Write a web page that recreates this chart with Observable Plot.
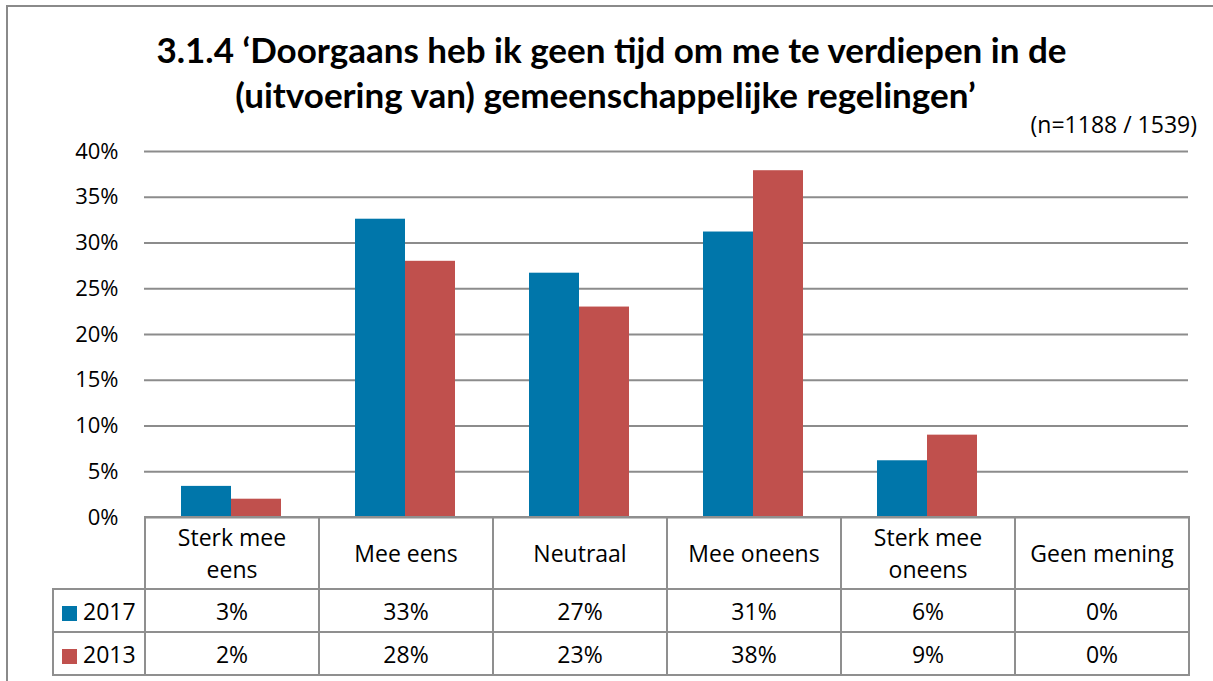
<!DOCTYPE html>
<html>
<head>
<meta charset="utf-8">
<script src="https://cdn.jsdelivr.net/npm/d3@7"></script>
<script src="https://cdn.jsdelivr.net/npm/@observablehq/plot@0.6"></script>
<style>
  html, body { margin: 0; padding: 0; background: #fff; }
  #root { position: relative; width: 1213px; height: 681px; overflow: hidden; font-family: "Open Sans", sans-serif; color: #000; }
  #border { position: absolute; left: 6px; top: 5px; width: 1300px; height: 800px; border-left: 2px solid #8a8a8a; border-top: 2px solid #8a8a8a; }
  #title { position: absolute; left: 0; width: 1213px; top: 27px; text-align: center; font-family: Lato, "Open Sans", sans-serif; font-weight: bold; font-size: 35px; line-height: 45px; }
  #title div { white-space: nowrap; }
  #title div:nth-child(1) { margin-left: 10px; }
  #title div:nth-child(2) { margin-left: -2px; }
  #n { position: absolute; right: 16px; top: 109px; font-size: 23px; line-height: 30px; }
  #chart { position: absolute; left: 0; top: 130px; }
  #tbl { position: absolute; left: 52px; top: 516px; border-collapse: collapse; table-layout: fixed; width: 1137px; font-size: 23px; }
  #tbl td { border: 2px solid #8f8f8f; text-align: center; padding: 0; overflow: hidden; }
  #tbl tr.head td { height: 70px; line-height: 32px; }
  #tbl tr.row td { height: 41px; line-height: 30px; }
  #tbl td.blank { border: none; border-right: 2px solid #8f8f8f; }
  #tbl td.leg { text-align: left; padding-left: 8px; white-space: nowrap; }
  .sw { display: inline-block; width: 15px; height: 15px; margin-right: 6px; vertical-align: -1px; }
</style>
</head>
<body>
<div id="root">
  <div id="border"></div>
  <div id="title"></div>
  <div id="n"></div>
  <div id="chart"></div>
  <table id="tbl"></table>
</div>
<script>
const titleLines = ["3.1.4 \u2018Doorgaans heb ik geen tijd om me te verdiepen in de", "(uitvoering van) gemeenschappelijke regelingen\u2019"];
const sampleNote = "(n=1188 / 1539)";
const categories = ["Sterk mee eens", "Mee eens", "Neutraal", "Mee oneens", "Sterk mee oneens", "Geen mening"];
const categoryLines = [["Sterk mee", "eens"], ["Mee eens"], ["Neutraal"], ["Mee oneens"], ["Sterk mee", "oneens"], ["Geen mening"]];
const years = ["2017", "2013"];
const values2017 = [3.4, 32.6, 26.7, 31.2, 6.2, 0.1];
const values2013 = [2.0, 28.0, 23.0, 37.9, 9.0, 0.1];
const yTicks = [0, 5, 10, 15, 20, 25, 30, 35, 40];
const colors = ["#0076AA", "#C0504D"];

const seriesValues = {"2017": values2017, "2013": values2013};
const data = [];
for (const yr of years) categories.forEach((c, i) => data.push({category: c, year: yr, value: seriesValues[yr][i]}));

document.getElementById("title").innerHTML = titleLines.map(t => `<div>${t}</div>`).join("");
document.getElementById("n").textContent = sampleNote;

const chart = Plot.plot({
  width: 1213,
  height: 420,
  marginTop: 21,
  marginBottom: 33,
  marginLeft: 144,
  marginRight: 25,
  style: {fontFamily: "'Open Sans', sans-serif", fontSize: "22px", color: "#000", background: "transparent"},
  fx: {domain: categories, padding: 0, axis: null},
  x: {domain: years, paddingInner: 0, paddingOuter: 0.74, axis: null},
  y: {domain: [0, 40], axis: null},
  color: {domain: years, range: colors},
  marks: [
    Plot.gridY(yTicks, {stroke: "#8c8c8c", strokeOpacity: 1, strokeWidth: 2}),
    Plot.axisY(yTicks, {tickSize: 0, tickPadding: 26, tickFormat: d => d + "%", label: null, fontSize: 22}),
    Plot.axisY(yTicks, {tickSize: 0, text: null, line: true, stroke: "#8c8c8c", strokeWidth: 2, label: null}),
    Plot.barY(data, {fx: "category", x: "year", y: "value", fill: "year"})
  ]
});
document.getElementById("chart").appendChild(chart);

const fmt = v => Math.round(v) + "%";
let html = `<colgroup><col style="width:92px">` + categories.map(() => `<col style="width:174px">`).join("") + `</colgroup>`;
html += `<tr class="head"><td class="blank"></td>` +
  categoryLines.map(l => `<td>${l.join("<br>")}</td>`).join("") + `</tr>`;
years.forEach((yr, k) => {
  html += `<tr class="row"><td class="leg"><span class="sw" style="background:${colors[k]}"></span>${yr}</td>` +
    seriesValues[yr].map(v => `<td>${fmt(v)}</td>`).join("") + `</tr>`;
});
document.getElementById("tbl").innerHTML = html;
</script>
</body>
</html>
